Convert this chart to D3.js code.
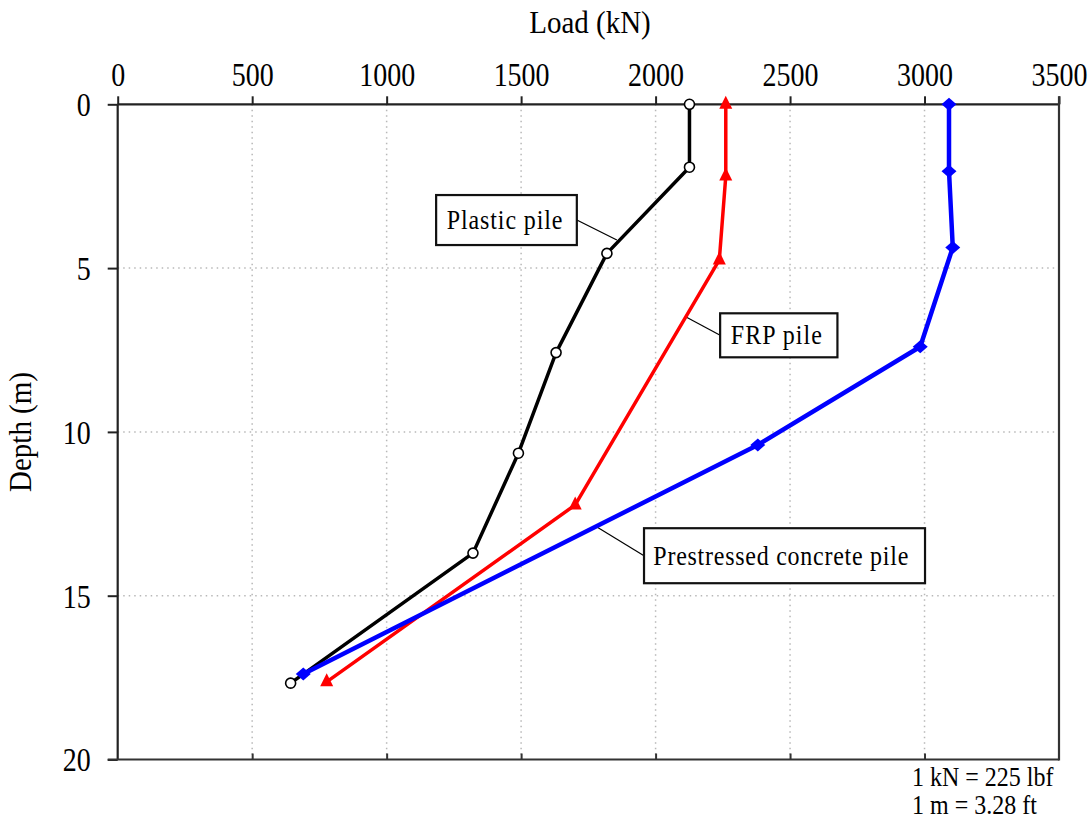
<!DOCTYPE html>
<html>
<head>
<meta charset="utf-8">
<script src="https://cdn.jsdelivr.net/npm/d3@7"></script>
<style>
  html, body { margin: 0; padding: 0; background: #fff; }
  svg { display: block; }
  text { font-family: "Liberation Serif", "Times New Roman", serif; fill: #000; }
</style>
</head>
<body>
<svg id="chart" width="1092" height="823"></svg>
<script>
// ---------- data ----------
const loadTicks = [0, 500, 1000, 1500, 2000, 2500, 3000, 3500];
const depthTicks = [0, 5, 10, 15, 20];

const plasticLoad  = [2126, 2126, 1819, 1630, 1490, 1321, 643];
const plasticDepth = [0, 1.92, 4.55, 7.58, 10.65, 13.70, 17.67];

const frpLoad  = [2261, 2261, 2237, 1701, 777];
const frpDepth = [0, 2.19, 4.75, 12.23, 17.63];

const concreteLoad  = [3091, 3091, 3105, 2984, 2380, 690];
const concreteDepth = [0, 2.04, 4.37, 7.40, 10.40, 17.39];

const labelTexts = ["Plastic pile", "FRP pile", "Prestressed concrete pile"];
const labelTipLoad  = [1856, 2110, 1785];
const labelTipDepth = [4.14, 6.48, 12.92];
const labelBoxLoad  = [1184, 2240, 1957];
const labelBoxDepth = [2.77, 6.38, 12.94];

const xTitle = "Load (kN)";
const yTitle = "Depth (m)";
const notes = ["1 kN = 225 lbf", "1 m = 3.28 ft"];

(function () {
// ---------- layout ----------
const svg = d3.select("#chart");
const L = 117.7, R = 1059, T = 104.3, B = 759.5;
const x = d3.scaleLinear().domain([0, 3500]).range([L, R]);
const y = d3.scaleLinear().domain([0, 20]).range([T, B]);
const SY = 1.2; // vertical stretch of the bitmap-like label font

// grid
const grid = svg.append("g").attr("stroke", "#b8b8b8").attr("stroke-width", 1.5)
  .attr("stroke-dasharray", "1.5,4");
grid.selectAll("line.v").data(loadTicks.slice(1, -1)).join("line").attr("class", "v")
  .attr("x1", d => x(d)).attr("x2", d => x(d)).attr("y1", T).attr("y2", B);
grid.selectAll("line.h").data(depthTicks.slice(1, -1)).join("line").attr("class", "h")
  .attr("x1", L).attr("x2", R).attr("y1", d => y(d)).attr("y2", d => y(d));

// axes
const topAxis = d3.axisTop(x).tickValues(loadTicks).tickSize(8).tickPadding(12)
  .tickFormat(d3.format("d"));
const gTop = svg.append("g").attr("transform", `translate(0,${T})`).call(topAxis);
const leftAxis = d3.axisLeft(y).tickValues(depthTicks).tickSize(10).tickPadding(17)
  .tickFormat(d3.format("d"));
const gLeft = svg.append("g").attr("transform", `translate(${L},0)`).call(leftAxis);
[gTop, gLeft].forEach(g => {
  g.select(".domain").attr("stroke", "#222").attr("stroke-width", 2.2);
  g.selectAll(".tick line").attr("stroke", "#222").attr("stroke-width", 2);
  g.selectAll(".tick text").attr("font-size", 28).attr("font-family", "Liberation Serif").attr("fill", "#000");
});
// stretch tick labels vertically around their own baseline
gTop.selectAll(".tick text").attr("y", 0).attr("dy", 0)
  .attr("transform", `translate(0,-18) scale(1,${SY})`);
gLeft.selectAll(".tick text").attr("dy", 0)
  .attr("transform", `translate(0,${0.34 * 28 * SY}) scale(1,${SY})`);
gTop.select(".domain").attr("d", `M${L},0H${R}`);
gLeft.select(".domain").attr("d", `M0,${T}V${B}`);

// bottom and right frame
const bottomAxis = d3.axisTop(x).tickValues(loadTicks.slice(1, -1)).tickSize(6).tickFormat("");
const gBot = svg.append("g").attr("transform", `translate(0,${B})`).call(bottomAxis);
gBot.select(".domain").attr("d", `M${L - 10},0H${R}`).attr("stroke", "#333").attr("stroke-width", 2.2);
gBot.selectAll(".tick line").attr("stroke", "#333").attr("stroke-width", 2);
svg.append("line").attr("x1", R).attr("x2", R).attr("y1", T - 8).attr("y2", B + 1)
  .attr("stroke", "#333").attr("stroke-width", 2.2);

// titles
svg.append("text").attr("transform", `translate(590,33) scale(1,1.1)`).attr("text-anchor", "middle")
  .attr("font-size", 29).text(xTitle);
svg.append("text").attr("transform", "translate(31,432) rotate(-90) scale(1,1.1)").attr("text-anchor", "middle")
  .attr("font-size", 29).text(yTitle);

// notes
notes.forEach((t, i) => {
  svg.append("text").attr("transform", `translate(912,${786 + i * 28}) scale(1,1.1)`)
    .attr("font-size", 24).text(t);
});

// series
const line = d3.line().x(d => x(d[0])).y(d => y(d[1]));
const series = [
  {load: plasticLoad, depth: plasticDepth, color: "#000", w: 3.5, marker: "circle"},
  {load: frpLoad, depth: frpDepth, color: "#ff0000", w: 3.5, marker: "triangle"},
  {load: concreteLoad, depth: concreteDepth, color: "#0000ff", w: 4.5, marker: "diamond"}
];

// label leaders
const boxW = [140.7, 117.3, 281], boxH = [50, 44, 55];
labelTexts.forEach((t, i) => {
  const bx = x(labelBoxLoad[i]), by = y(labelBoxDepth[i]);
  const tx = x(labelTipLoad[i]), ty = y(labelTipDepth[i]);
  const ax = tx > bx ? bx + boxW[i] : bx;
  const ay = by + boxH[i] / 2;
  svg.append("line").attr("x1", ax).attr("y1", ay).attr("x2", tx).attr("y2", ty)
    .attr("stroke", "#000").attr("stroke-width", 1.2);
});

series.forEach(s => {
  const pts = s.load.map((v, i) => [v, s.depth[i]]);
  svg.append("path").datum(pts).attr("d", line).attr("fill", "none")
    .attr("stroke", s.color).attr("stroke-width", s.w).attr("stroke-linejoin", "round");
  const g = svg.append("g");
  pts.forEach(p => {
    const px = x(p[0]), py = y(p[1]);
    if (s.marker === "circle") {
      g.append("circle").attr("cx", px).attr("cy", py).attr("r", 5)
        .attr("fill", "#fff").attr("stroke", "#000").attr("stroke-width", 1.6);
    } else if (s.marker === "triangle") {
      g.append("path").attr("d", `M${px},${py - 8.5}L${px + 6.5},${py + 4.5}L${px - 6.5},${py + 4.5}Z`)
        .attr("fill", s.color);
    } else {
      g.append("path").attr("d", `M${px},${py - 6.5}L${px + 7.5},${py}L${px},${py + 6.5}L${px - 7.5},${py}Z`)
        .attr("fill", s.color);
    }
  });
});

labelTexts.forEach((t, i) => {
  const bx = x(labelBoxLoad[i]), by = y(labelBoxDepth[i]);
  svg.append("rect").attr("x", bx).attr("y", by).attr("width", boxW[i]).attr("height", boxH[i])
    .attr("fill", "#fff").attr("stroke", "#111").attr("stroke-width", 2.2);
  const pad = [10.7, 10.7, 9.3][i];
  const tl = [115.6, 91, 255][i];
  svg.append("text").attr("transform", `translate(${bx + pad},${by + boxH[i] / 2 + 9}) scale(1,1.1)`)
    .attr("font-size", 24)
    .attr("textLength", tl).attr("lengthAdjust", "spacing").text(t);
});
})();
</script>
</body>
</html>
